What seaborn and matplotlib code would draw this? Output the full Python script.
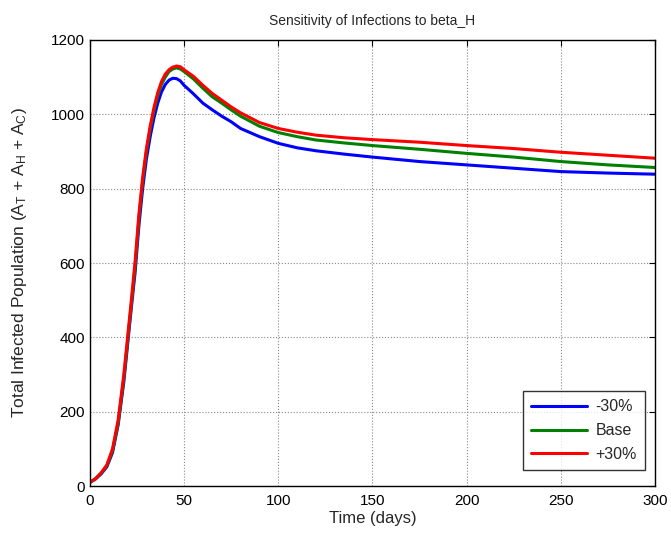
import pandas as pd
import matplotlib
matplotlib.use('Agg')
import matplotlib.pyplot as plt
import seaborn as sns

# Values (days, total infected)
days = [0, 3, 6, 9, 12, 15, 18, 20, 22, 24, 26, 28, 30, 32, 34, 36, 38, 40,
        42, 44, 46, 48, 50, 55, 60, 65, 70, 75, 80, 90, 100, 110, 120, 135,
        150, 175, 200, 225, 250, 275, 300]

minus30 = [10, 19, 33, 52, 90, 165, 280, 380, 480, 575, 700, 800, 880, 940,
           990, 1030, 1060, 1080, 1092, 1097, 1096, 1090, 1078, 1055, 1030,
           1012, 995, 980, 962, 940, 922, 910, 902, 893, 885, 873, 864, 855,
           846, 842, 839]
base = [10, 20, 35, 55, 95, 170, 290, 390, 490, 590, 720, 820, 900, 960,
        1010, 1050, 1080, 1100, 1115, 1122, 1125, 1122, 1115, 1095, 1070,
        1047, 1030, 1012, 995, 968, 951, 940, 931, 923, 916, 906, 895, 885,
        873, 864, 857]
plus30 = [10, 20, 36, 57, 100, 178, 300, 400, 500, 605, 730, 830, 908, 968,
          1018, 1058, 1088, 1108, 1120, 1127, 1130, 1128, 1120, 1102, 1078,
          1056, 1038, 1020, 1004, 978, 962, 952, 944, 937, 932, 925, 916, 908,
          898, 890, 882]

labels = ['-30%', 'Base', '+30%']
colors = ['#0000ff', '#008000', '#ff0000']

# Long format table for seaborn
df = pd.concat([
    pd.DataFrame({'day': days, 'infected': vals, 'case': lab})
    for lab, vals in zip(labels, [minus30, base, plus30])
])

sns.set_style('white')
plt.rcParams['font.family'] = ['Liberation Sans', 'DejaVu Sans']
plt.rcParams['mathtext.default'] = 'regular'

fig = plt.figure(figsize=(6.71, 5.33), dpi=100)
ax = fig.add_axes([0.134, 0.088, 0.842, 0.837])

sns.lineplot(data=df, x='day', y='infected', hue='case', hue_order=labels,
             palette=colors, linewidth=2.2, ax=ax, estimator=None, sort=False)

ax.set_xlim(0, 300)
ax.set_ylim(0, 1200)
ax.set_xticks(range(0, 301, 50))
ax.set_yticks(range(0, 1201, 200))
ax.grid(True, linestyle=':', color='#888888', linewidth=0.8)
for s in ax.spines.values():
    s.set_color('black')
    s.set_linewidth(1)
ax.tick_params(direction='in', length=4, top=True, right=True, labelsize=11,
               colors='black')
ax.tick_params(axis='x', pad=6)

ax.set_title('Sensitivity of Infections to beta_H', fontsize=10, pad=11)
ax.set_xlabel('Time (days)', fontsize=12, labelpad=2)
ax.set_ylabel('Total Infected Population (A$_T$ + A$_H$ + A$_C$)', fontsize=12.5)
ax.yaxis.set_label_coords(-0.108, 0.5)

leg = ax.legend(loc='lower right', fancybox=False, edgecolor='black',
                fontsize=11.5, handlelength=3.5, borderpad=0.5, labelspacing=0.55,
                handletextpad=0.5, borderaxespad=0, bbox_to_anchor=(0.982, 0.036))
leg.get_frame().set_linewidth(1)

fig.savefig('out.png', dpi=100)
